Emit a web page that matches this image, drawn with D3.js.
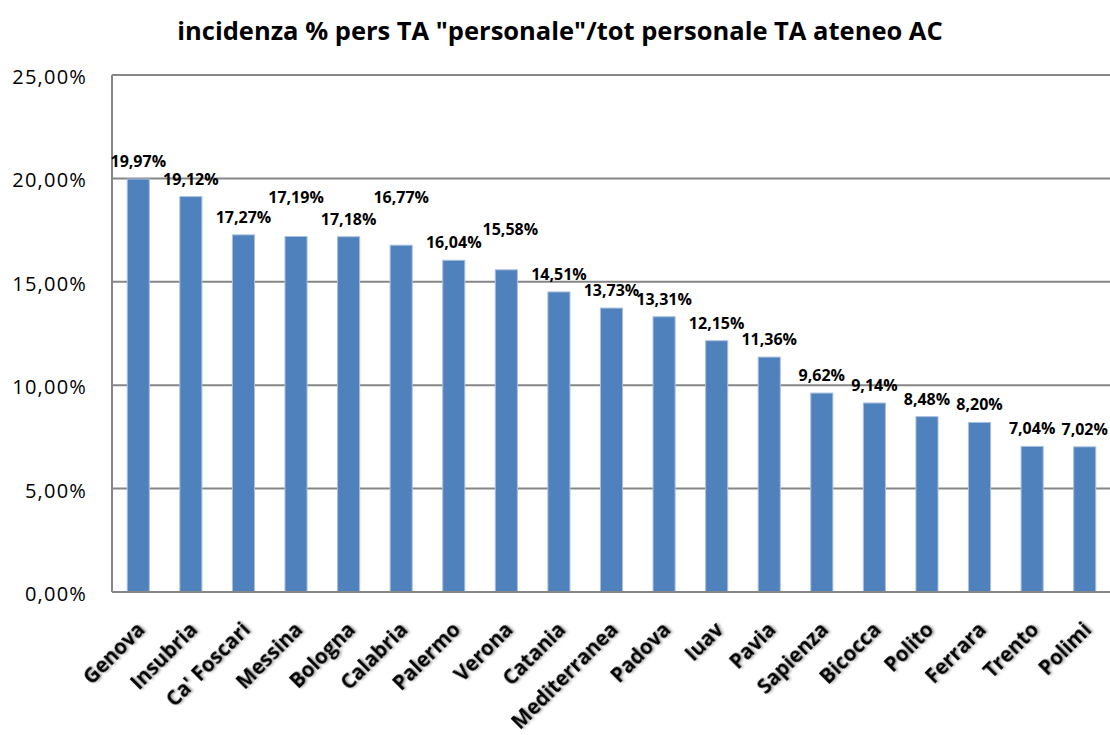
<!DOCTYPE html>
<html>
<head>
<meta charset="utf-8">
<script src="https://cdn.jsdelivr.net/npm/d3@7"></script>
<style>
	body { margin: 0; background: #fff; }
	svg { display: block; }
</style>
</head>
<body>
<div id="chart"></div>
<script>
	'use strict';

	// data
	var categories = ['Genova', 'Insubria', 'Ca\' Foscari', 'Messina', 'Bologna', 'Calabria', 'Palermo', 'Verona',
		'Catania', 'Mediterranea', 'Padova', 'Iuav', 'Pavia', 'Sapienza', 'Bicocca', 'Polito', 'Ferrara', 'Trento', 'Polimi'];
	var values = [19.97, 19.12, 17.27, 17.19, 17.18, 16.77, 16.04, 15.58, 14.51, 13.73, 13.31, 12.15, 11.36,
		9.62, 9.14, 8.48, 8.20, 7.04, 7.02];
	var yTicks = [0, 5, 10, 15, 20, 25];
	var title = 'incidenza % pers TA "personale"/tot personale TA ateneo AC';

	// manual label nudges, as placed in the original (px above the normal spot)
	var labelLift = [0, 0, 0, 22, 0, 30, 0, 23, 0, 0, 0, 0, 0, 0, 0, 0, 0, 0, 0];
	var labelShift = [0, 0, 0, 0, 0, 0, 0, 4, 0, 0, 0, 0, 0, 0, 0, 0, 0, 0, 0];

	var width = 1110, height = 735;
	var margin = { top: 75, left: 112, bottom: 143, right: -1 };

	var itLocale = d3.formatLocale({ decimal: ',', thousands: '.', grouping: [3], currency: ['', '\u20ac'] });
	var fmt = itLocale.format('.2f');
	function pct(v) { return fmt(v) + '%'; }

	var svg = d3.select('#chart')
		.append('svg')
		.attr('width', width)
		.attr('height', height);

	var defs = svg.append('defs');
	var shadow = defs.append('filter')
		.attr('id', 'shadow')
		.attr('x', '-20%').attr('y', '-40%')
		.attr('width', '140%').attr('height', '180%');
	shadow.append('feDropShadow')
		.attr('dx', 1.5).attr('dy', 1.5)
		.attr('stdDeviation', 1)
		.attr('flood-color', '#000')
		.attr('flood-opacity', 0.35);

	var x = d3.scaleBand()
		.domain(categories)
		.range([margin.left, width - margin.right])
		.paddingInner(0.58)
		.paddingOuter(0.29);

	var y = d3.scaleLinear()
		.domain([0, 25])
		.range([height - margin.bottom, margin.top]);

	// title
	svg.append('text')
		.attr('x', 560)
		.attr('y', 40)
		.attr('text-anchor', 'middle')
		.style('font-family', '"Open Sans", sans-serif')
		.style('font-weight', 'bold')
		.style('font-size', '25.5px')
		.text(title);

	// gridlines
	svg.append('g')
		.selectAll('line')
		.data(yTicks)
		.enter()
		.append('line')
		.attr('x1', margin.left)
		.attr('x2', width)
		.attr('y1', function(d) { return y(d); })
		.attr('y2', function(d) { return y(d); })
		.attr('stroke', '#868686')
		.attr('stroke-width', 2);

	// left axis line
	svg.append('line')
		.attr('x1', margin.left).attr('x2', margin.left)
		.attr('y1', y(25)).attr('y2', y(0))
		.attr('stroke', '#868686')
		.attr('stroke-width', 2);

	// y axis labels
	var yAxis = d3.axisLeft(y)
		.tickValues(yTicks)
		.tickSize(0)
		.tickPadding(25)
		.tickFormat(pct);

	var yG = svg.append('g')
		.attr('transform', 'translate(' + margin.left + ',0)')
		.call(yAxis);
	yG.select('.domain').remove();
	yG.selectAll('text')
		.attr('dy', '0.42em')
		.style('font-family', '"Open Sans", sans-serif')
		.style('font-size', '20px')
		.style('letter-spacing', '1.2px')
		.attr('fill', '#000');

	// bars
	svg.append('g')
		.selectAll('rect')
		.data(values)
		.enter()
		.append('rect')
		.attr('x', function(d, i) { return x(categories[i]); })
		.attr('y', function(d) { return y(d); })
		.attr('width', x.bandwidth())
		.attr('height', function(d) { return y(0) - y(d); })
		.attr('fill', '#4f81bd')
		.attr('stroke', '#a9c0de')
		.attr('stroke-width', 1);

	// value labels
	svg.append('g')
		.selectAll('text')
		.data(values)
		.enter()
		.append('text')
		.attr('x', function(d, i) { return x(categories[i]) + x.bandwidth() / 2 + labelShift[i]; })
		.attr('y', function(d, i) { return y(d) - 12 - labelLift[i]; })
		.attr('text-anchor', 'middle')
		.style('font-family', '"Open Sans", sans-serif')
		.style('font-weight', 'bold')
		.style('font-size', '16px')
		.text(function(d) { return pct(d); });

	// x axis labels
	var xAxis = d3.axisBottom(x)
		.tickSize(0)
		.tickPadding(0);

	var xG = svg.append('g')
		.attr('transform', 'translate(0,' + y(0) + ')')
		.call(xAxis);
	xG.select('.domain').remove();
	xG.selectAll('text')
		.attr('text-anchor', 'end')
		.attr('dy', 0)
		.attr('y', 0)
		.attr('transform', 'translate(8,39) rotate(-45)')
		.attr('filter', 'url(#shadow)')
		.attr('fill', '#000')
		.style('font-family', '"Open Sans", sans-serif')
		.style('font-weight', 'bold')
		.style('font-size', '20.5px');

	// bottom axis line over bars
	svg.append('line')
		.attr('x1', margin.left).attr('x2', width)
		.attr('y1', y(0)).attr('y2', y(0))
		.attr('stroke', '#868686')
		.attr('stroke-width', 2);
</script>
</body>
</html>
